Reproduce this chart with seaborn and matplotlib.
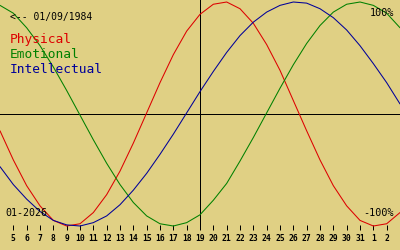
import matplotlib
matplotlib.use("Agg")
import matplotlib.pyplot as plt
import pandas as pd
import seaborn as sns

# ---- data (values in %) ----
days = list(range(4, 35))  # day index; 32 = Feb 1, 33 = Feb 2
physical = [-15, -41, -64, -82, -95, -100, -98, -88, -72, -51, -26, 1, 28, 53, 74, 89,
            98, 100, 94, 81, 62, 39, 12, -15, -41, -64, -82, -95, -100, -98, -88]
emotional = [97, 90, 77, 61, 42, 21, -1, -23, -44, -63, -79, -91, -98, -100, -97, -90,
             -77, -62, -42, -21, 1, 23, 44, 63, 79, 91, 98, 100, 97, 90, 77]
intellectual = [-47, -63, -76, -87, -95, -99, -100, -97, -91, -81, -68, -53, -36, -18, 1, 20,
                38, 55, 70, 82, 91, 97, 100, 99, 94, 86, 75, 61, 45, 28, 9]
tick_days = list(range(5, 34))
tick_labels = ["5", "6", "7", "8", "9", "10", "11", "12", "13", "14", "15", "16", "17",
               "18", "19", "20", "21", "22", "23", "24", "25", "26", "27", "28", "29",
               "30", "31", "1", "2"]
center_day = 19
birth_label = "<-- 01/09/1984"
month_label = "01-2026"
cycle_names = ["Physical", "Emotional", "Intellectual"]
colors = {"Physical": "#DD0000", "Emotional": "#008000", "Intellectual": "#000099"}

bg = "#E0D084"
sns.set_style("white")
plt.rcParams["font.family"] = ["DejaVu Sans Mono"]

fig = plt.figure(figsize=(4, 2.5), dpi=100, facecolor=bg)
ax = fig.add_axes([0, 20 / 250, 1, 230 / 250])
ax.set_facecolor(bg)

df = pd.DataFrame({
    "day": days * 3,
    "value": physical + emotional + intellectual,
    "cycle": ["Physical"] * len(days) + ["Emotional"] * len(days) + ["Intellectual"] * len(days),
})

sns.lineplot(data=df, x="day", y="value", hue="cycle", hue_order=cycle_names,
             palette=colors, legend=False, ax=ax, zorder=2)
for ln in ax.lines:
    ln.set_linewidth(0.75)
    ln.set_antialiased(True)

ax.axhline(0, color="black", lw=0.72, antialiased=False, zorder=1)
ax.axvline(center_day, color="black", lw=0.72, antialiased=False, zorder=1)

ax.set_xlim(4, 34)
ax.set_ylim(-103.57, 101.79)
for s in ax.spines.values():
    s.set_visible(False)
ax.set_yticks([])
ax.set_xticks(tick_days, tick_labels)
ax.tick_params(axis="x", bottom=True, direction="in", length=3.6, width=0.72, pad=3.0,
               labelsize=5.8, colors="black")
for lbl in ax.get_xticklabels():
    lbl.set_fontweight("bold")
ax.set_xlabel("")
ax.set_ylabel("")

def ftext(x, y, s, **kw):
    fig.text(x / 400, 1 - y / 250, s, va="baseline", **kw)

ftext(10, 20, birth_label, fontsize=7, color="black")
ftext(10, 42.7, "Physical", fontsize=9.3, color=colors["Physical"])
ftext(10, 58.3, "Emotional", fontsize=9.3, color=colors["Emotional"])
ftext(10, 73.3, "Intellectual", fontsize=9.3, color=colors["Intellectual"])
ftext(5, 216, month_label, fontsize=7.2, color="black")
ftext(394, 16, "100%", fontsize=7.3, color="black", ha="right")
ftext(394, 216, "-100%", fontsize=7.3, color="black", ha="right")

fig.savefig("out.png", dpi=100, facecolor=bg)
